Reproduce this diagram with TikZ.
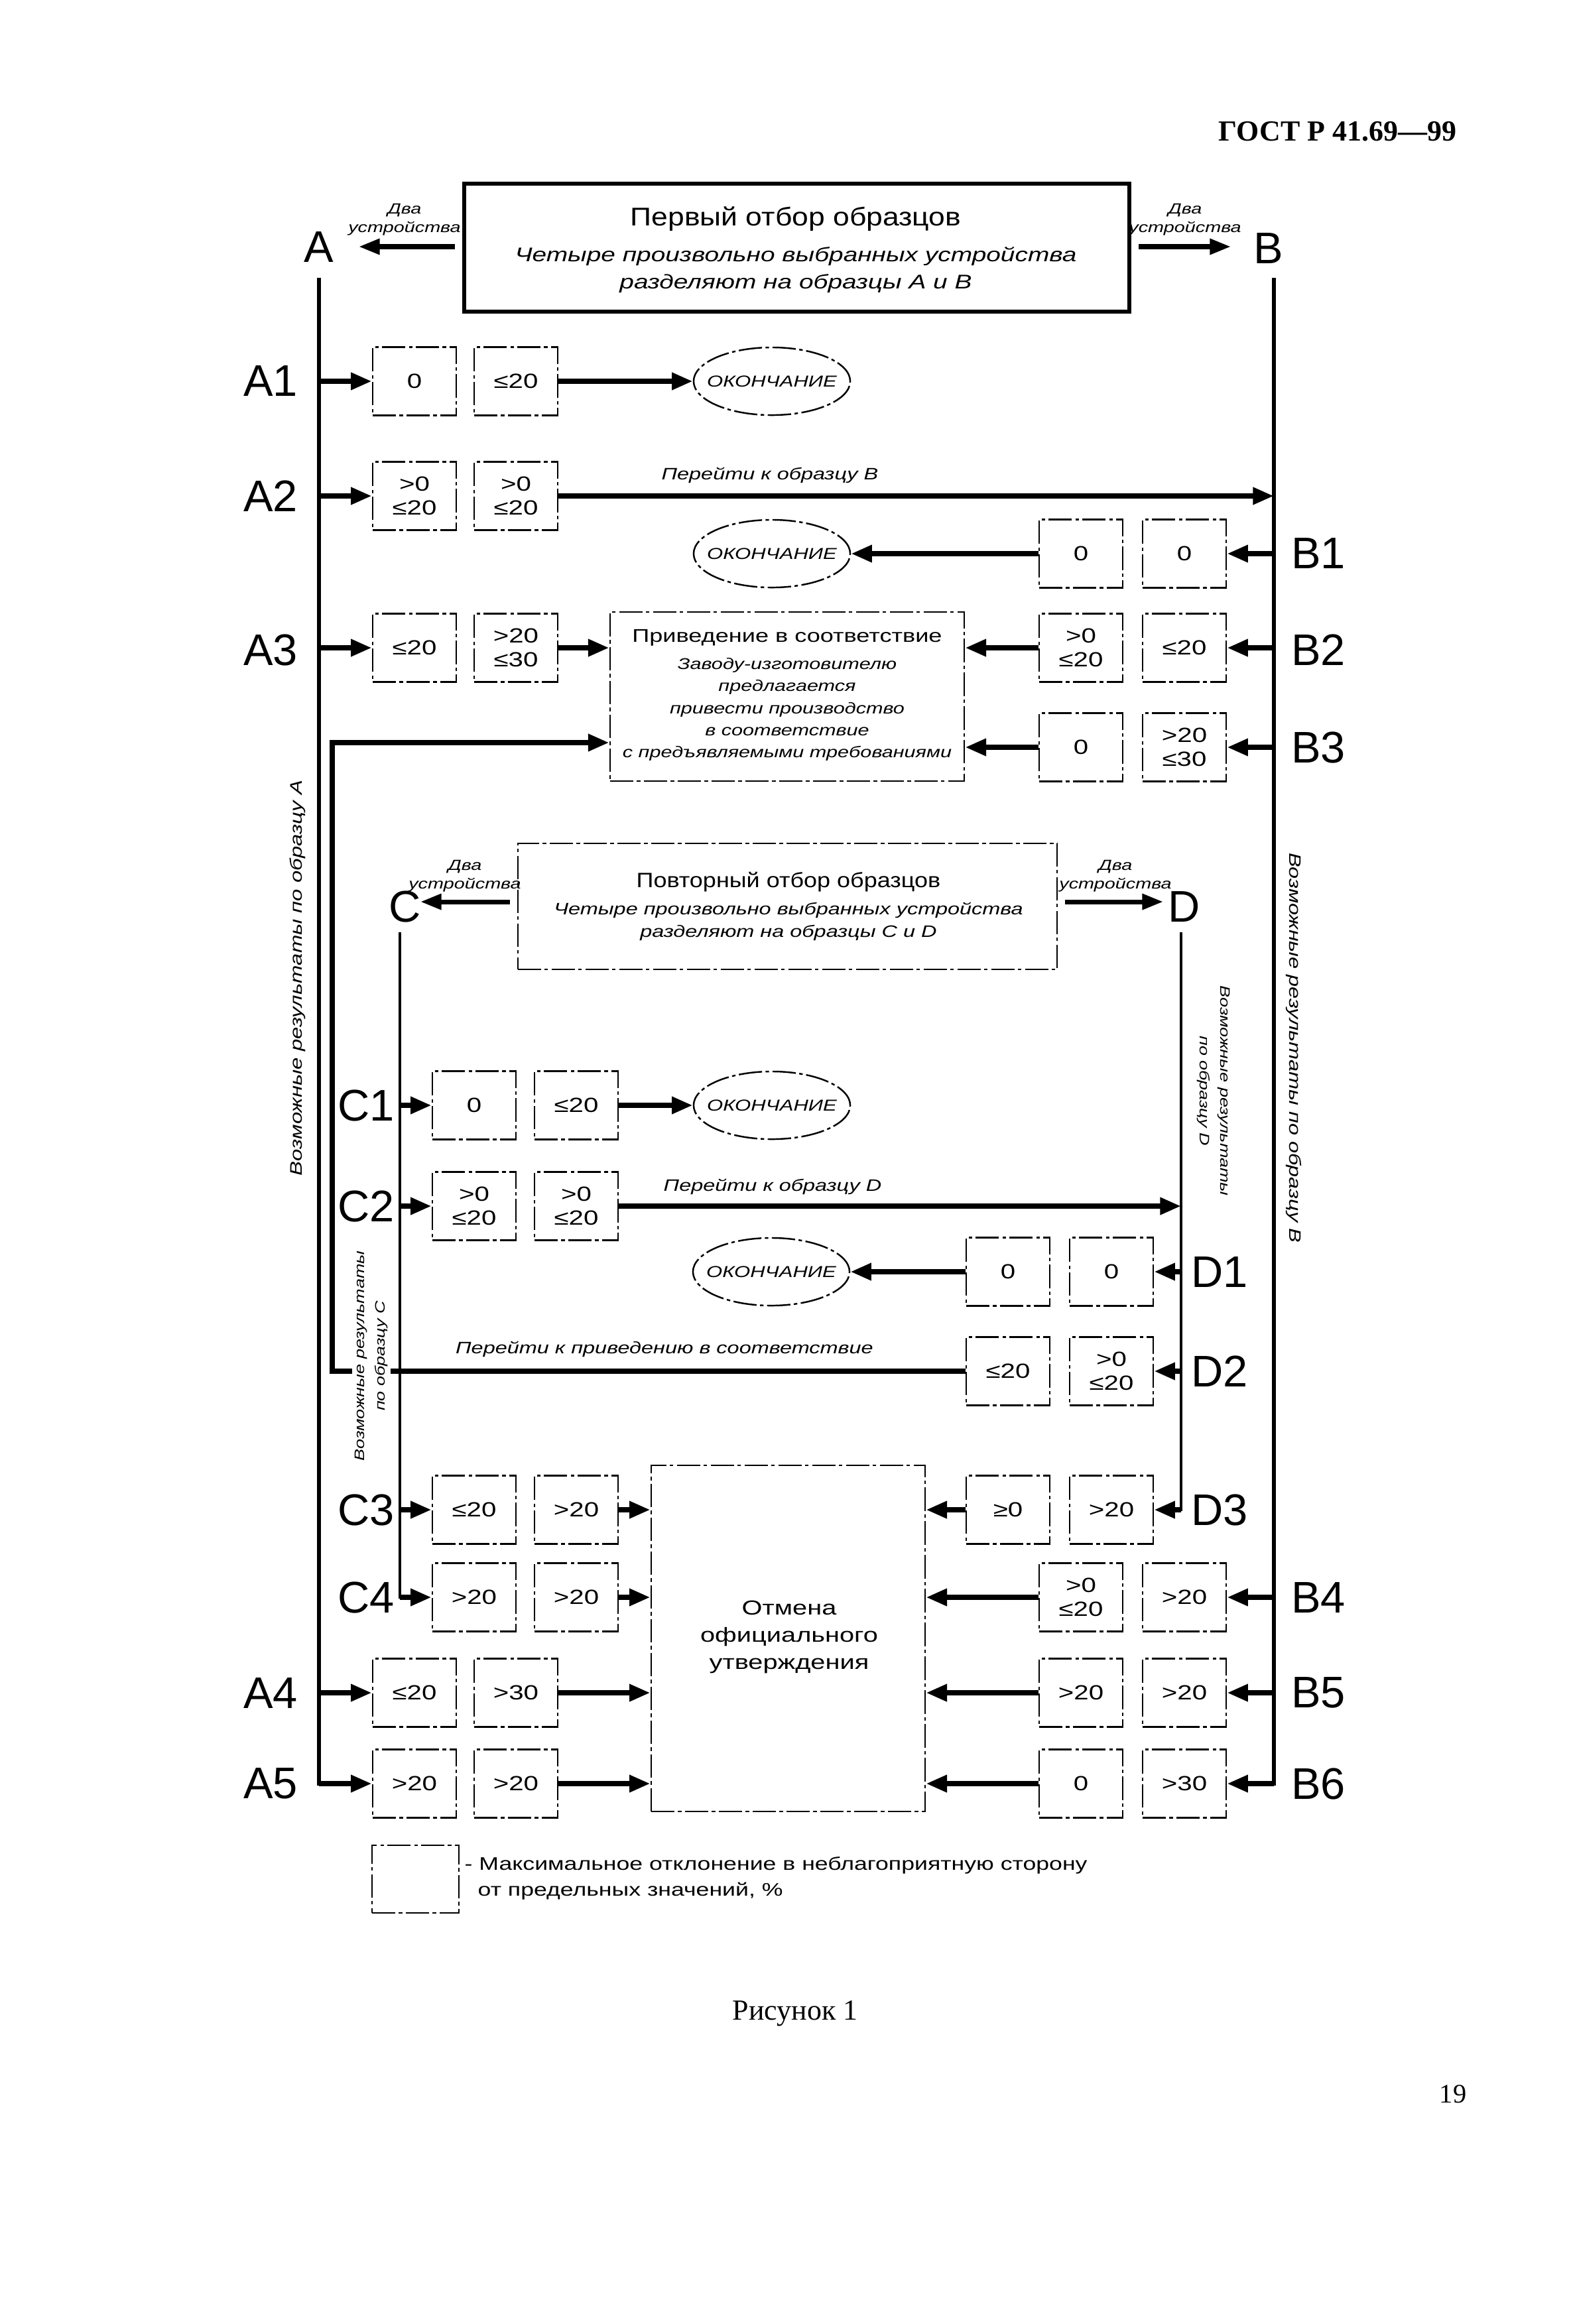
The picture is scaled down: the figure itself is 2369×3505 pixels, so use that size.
\documentclass[tikz,border=0pt]{standalone}
\usepackage{fontspec}
\setmainfont{Liberation Sans}
\newfontfamily\wsans[FakeStretch=1.3]{Liberation Sans}
\newfontfamily\msans[FakeStretch=1.15]{Liberation Sans}
\newfontfamily\tserif{Liberation Serif}
\usetikzlibrary{arrows.meta,shapes.geometric}
\tikzset{
 dashpat/.style={line width=0.7pt, dash pattern=on 10pt off 1.5pt on 1.5pt off 1.5pt},
 vbox/.style={draw, dashpat, minimum width=1.26cm, minimum height=1.03cm, inner sep=0pt, align=center, font=\wsans\fontsize{8.8}{10.2}\selectfont},
 endell/.style={draw, dashpat, ellipse, minimum width=2.36cm, minimum height=1.02cm, inner sep=0pt,
   label={[font=\wsans\itshape\fontsize{6.8}{8}\selectfont, inner sep=0pt]center:ОКОНЧАНИЕ}},
 arr/.style={line width=2.3pt, -{Triangle[length=9pt,width=7pt]}},
 arrtop/.style={line width=2pt, shorten <=3pt, -{Triangle[length=9pt,width=6.5pt]}},
 vlineAB/.style={line width=1.5pt, line cap=rect},
 vlineCD/.style={line width=1.2pt, line cap=rect},
 rowlab/.style={font=\fontsize{19}{22}\selectfont, inner sep=0pt},
 twodev/.style={align=center, font=\wsans\itshape\fontsize{6.3}{8}\selectfont},
 gotxt/.style={font=\wsans\itshape\fontsize{7.1}{8.5}\selectfont},
 bigdash/.style={draw, dashpat, inner sep=0pt},
}
\begin{document}
\begin{tikzpicture}[x=0.01cm,y=-0.01cm]
\fill[white] (0,0) rectangle (2369,3505);
\useasboundingbox (0,0) rectangle (2369,3505);

% header
\node[font=\tserif\bfseries\fontsize{12.5}{14}\selectfont] (hdr) at (2017,198) {ГОСТ Р 41.69—99};

% first sampling box
\node[draw, line width=1.7pt, minimum width=10.03cm, minimum height=1.93cm, inner sep=0pt] (first) at (1201.5,373.5) {};
\node[font=\msans\fontsize{11}{13}\selectfont] (firstT) at (1200,330) {Первый отбор образцов};
\node[align=center, font=\wsans\itshape\fontsize{8.5}{11.4}\selectfont] (firstS) at (1200,407) {Четыре произвольно выбранных устройства\\разделяют на образцы А и В};
\node[rowlab] (LA) at (481,373) {A};
\node[rowlab] (LB) at (1913,375) {B};
\coordinate (Atip) at (541,372);
\coordinate (Btip) at (1856,372);
\draw[arrtop] (first.west |- Atip) -- (Atip);
\draw[arrtop] (first.east |- Btip) -- (Btip);
\node[twodev] (tdA) at (610,331) {Два\\устройства};
\node[twodev] (tdB) at (1787,331) {Два\\устройства};

% main vertical lines
\coordinate (Atop) at (481,422);
\coordinate (Abot) at (481,2690);
\coordinate (Btop) at (1921,422);
\coordinate (Bbot) at (1921,2690);
\draw[vlineAB] (Atop) -- (Abot);
\draw[vlineAB] (Btop) -- (Bbot);

% A1
\node[vbox] (A1a) at (625,575) {0};
\node[vbox] (A1b) at (778,575) {≤20};
\node[endell] (E1) at (1164,575) {};
\node[rowlab] (A1l) at (408,575) {A1};
\draw[arr] (Atop |- A1a.west) -- (A1a.west);
\draw[arr] (A1b.east) -- (E1.west);

% A2
\node[vbox] (A2a) at (625,748) {>0\\≤20};
\node[vbox] (A2b) at (778,748) {>0\\≤20};
\node[rowlab] (A2l) at (408,748) {A2};
\draw[arr] (Atop |- A2a.west) -- (A2a.west);
\draw[arr] (A2b.east) -- (A2b.east -| Btop);
\node[gotxt] (go1) at (1161,717) {Перейти к образцу В};

% B1
\node[vbox] (B1a) at (1630,835) {0};
\node[vbox] (B1b) at (1786,835) {0};
\node[endell] (E2) at (1164,835) {};
\node[rowlab] (B1l) at (1988,835) {B1};
\draw[arr] (Btop |- B1b.east) -- (B1b.east);
\draw[arr] (B1a.west) -- (E2.east);

% compliance box
\node[bigdash, minimum width=5.34cm, minimum height=2.55cm] (comp) at (1187,1050.5) {};
\node[font=\wsans\fontsize{7.9}{9.5}\selectfont] (compT) at (1187,962) {Приведение в соответствие};
\node[align=center, font=\wsans\itshape\fontsize{6.7}{9.5}\selectfont] (compS) at (1187,1070) {Заводу-изготовителю\\предлагается\\привести производство\\в соответствие\\с предъявляемыми требованиями};

% A3
\node[vbox] (A3a) at (625,977) {≤20};
\node[vbox] (A3b) at (778,977) {>20\\≤30};
\node[rowlab] (A3l) at (408,980) {A3};
\draw[arr] (Atop |- A3a.west) -- (A3a.west);
\draw[arr] (A3b.east) -- (A3b.east -| comp.west);

% B2
\node[vbox] (B2a) at (1630,977) {>0\\≤20};
\node[vbox] (B2b) at (1786,977) {≤20};
\node[rowlab] (B2l) at (1988,980) {B2};
\draw[arr] (Btop |- B2b.east) -- (B2b.east);
\draw[arr] (B2a.west) -- (B2a.west -| comp.east);

% B3
\node[vbox] (B3a) at (1630,1127) {0};
\node[vbox] (B3b) at (1786,1127) {>20\\≤30};
\node[rowlab] (B3l) at (1988,1127) {B3};
\draw[arr] (Btop |- B3b.east) -- (B3b.east);
\draw[arr] (B3a.west) -- (B3a.west -| comp.east);

% second sampling box
\node[bigdash, minimum width=8.13cm, minimum height=1.90cm] (second) at (1187.5,1367) {};
\node[font=\msans\fontsize{8.9}{10}\selectfont] (secT) at (1189,1330) {Повторный отбор образцов};
\node[align=center, font=\wsans\itshape\fontsize{7.1}{9.7}\selectfont] (secS) at (1189,1390) {Четыре произвольно выбранных устройства\\разделяют на образцы С и D};
\node[rowlab] (LC) at (611,1367) {C};
\node[rowlab] (LD) at (1786,1367) {D};
\coordinate (Ctip) at (634,1360);
\coordinate (Dtip) at (1754,1360);
\draw[arrtop] (second.west |- Ctip) -- (Ctip);
\draw[arrtop] (second.east |- Dtip) -- (Dtip);
\node[twodev] (tdC) at (701,1321) {Два\\устройства};
\node[twodev] (tdD) at (1682,1321) {Два\\устройства};

\coordinate (Ctop) at (603,1408);
\coordinate (Cbot) at (603,2409);
\coordinate (Dtop) at (1781,1408);
\coordinate (Dbot) at (1781,2277);
\draw[vlineCD] (Ctop) -- (Cbot);
\draw[vlineCD] (Dtop) -- (Dbot);

% C1
\node[vbox] (C1a) at (715,1667) {0};
\node[vbox] (C1b) at (869,1667) {≤20};
\node[endell] (E3) at (1164,1667) {};
\node[rowlab] (C1l) at (552,1667) {C1};
\draw[arr] (Ctop |- C1a.west) -- (C1a.west);
\draw[arr] (C1b.east) -- (E3.west);

% C2
\node[vbox] (C2a) at (715,1819) {>0\\≤20};
\node[vbox] (C2b) at (869,1819) {>0\\≤20};
\node[rowlab] (C2l) at (552,1819) {C2};
\draw[arr] (Ctop |- C2a.west) -- (C2a.west);
\draw[arr] (C2b.east) -- (C2b.east -| Dtop);
\node[gotxt] (go2) at (1165,1790) {Перейти к образцу D};

% D1
\node[vbox] (D1a) at (1520,1918) {0};
\node[vbox] (D1b) at (1676,1918) {0};
\node[endell] (E4) at (1163,1918) {};
\node[rowlab] (D1l) at (1839,1918) {D1};
\draw[arr] (Dtop |- D1b.east) -- (D1b.east);
\draw[arr] (D1a.west) -- (E4.east);

% D2 and return to compliance
\node[vbox] (D2a) at (1520,2068) {≤20};
\node[vbox] (D2b) at (1676,2068) {>0\\≤20};
\node[rowlab] (D2l) at (1839,2068) {D2};
\draw[arr] (Dtop |- D2b.east) -- (D2b.east);
\coordinate (R1) at (501,2068);
\coordinate (R2) at (501,1120);
\draw[arr] (D2a.west) -- (R1) -- (R2) -- (R2 -| comp.west);
\node[gotxt] (go3) at (1002,2035) {Перейти к приведению в соответствие};

% cancellation box
\node[bigdash, minimum width=4.13cm, minimum height=5.22cm] (cancel) at (1188.5,2471) {};
\node[align=center, font=\wsans\fontsize{8.7}{11.7}\selectfont] (cancelT) at (1190,2469) {Отмена\\официального\\утверждения};

% C3
\node[vbox] (C3a) at (715,2277) {≤20};
\node[vbox] (C3b) at (869,2277) {>20};
\node[rowlab] (C3l) at (552,2277) {C3};
\draw[arr] (Ctop |- C3a.west) -- (C3a.west);
\draw[arr] (C3b.east) -- (C3b.east -| cancel.west);

% D3
\node[vbox] (D3a) at (1520,2277) {≥0};
\node[vbox] (D3b) at (1676,2277) {>20};
\node[rowlab] (D3l) at (1839,2277) {D3};
\draw[arr] (Dbot) -- (D3b.east);
\draw[arr] (D3a.west) -- (D3a.west -| cancel.east);

% C4
\node[vbox] (C4a) at (715,2409) {>20};
\node[vbox] (C4b) at (869,2409) {>20};
\node[rowlab] (C4l) at (552,2409) {C4};
\draw[arr] (Cbot) -- (C4a.west);
\draw[arr] (C4b.east) -- (C4b.east -| cancel.west);

% B4
\node[vbox] (B4a) at (1630,2409) {>0\\≤20};
\node[vbox] (B4b) at (1786,2409) {>20};
\node[rowlab] (B4l) at (1988,2409) {B4};
\draw[arr] (Btop |- B4b.east) -- (B4b.east);
\draw[arr] (B4a.west) -- (B4a.west -| cancel.east);

% A4
\node[vbox] (A4a) at (625,2553) {≤20};
\node[vbox] (A4b) at (778,2553) {>30};
\node[rowlab] (A4l) at (408,2553) {A4};
\draw[arr] (Atop |- A4a.west) -- (A4a.west);
\draw[arr] (A4b.east) -- (A4b.east -| cancel.west);

% B5
\node[vbox] (B5a) at (1630,2553) {>20};
\node[vbox] (B5b) at (1786,2553) {>20};
\node[rowlab] (B5l) at (1988,2553) {B5};
\draw[arr] (Btop |- B5b.east) -- (B5b.east);
\draw[arr] (B5a.west) -- (B5a.west -| cancel.east);

% A5
\node[vbox] (A5a) at (625,2690) {>20};
\node[vbox] (A5b) at (778,2690) {>20};
\node[rowlab] (A5l) at (408,2690) {A5};
\draw[arr] (Abot) -- (A5a.west);
\draw[arr] (A5b.east) -- (A5b.east -| cancel.west);

% B6
\node[vbox] (B6a) at (1630,2690) {0};
\node[vbox] (B6b) at (1786,2690) {>30};
\node[rowlab] (B6l) at (1988,2690) {B6};
\draw[arr] (Bbot) -- (B6b.east);
\draw[arr] (B6a.west) -- (B6a.west -| cancel.east);

% rotated captions
\node[rotate=90, font=\wsans\itshape\fontsize{7.2}{9}\selectfont] (txtA) at (449,1475) {Возможные результаты по образцу А};
\node[rotate=-90, font=\wsans\itshape\fontsize{7.1}{9}\selectfont] (txtB) at (1951,1580) {Возможные результаты по образцу В};
\node[rotate=90, align=center, fill=white, inner sep=1pt, font=\wsans\itshape\fontsize{5.9}{9}\selectfont] (txtC) at (560,2045) {Возможные результаты\\по образцу С};
\node[rotate=-90, align=center, inner sep=1pt, font=\wsans\itshape\fontsize{5.9}{9}\selectfont] (txtD) at (1830,1645) {Возможные результаты\\по образцу D};

% legend
\node[bigdash, minimum width=1.31cm, minimum height=1.02cm] (leg) at (626.5,2834) {};
\node[anchor=west, inner sep=0pt, font=\wsans\fontsize{7.8}{9}\selectfont] (legT1) at (700,2813) {- Максимальное отклонение в неблагоприятную сторону};
\node[anchor=west, inner sep=0pt, font=\wsans\fontsize{7.8}{9}\selectfont] (legT2) at (720,2852) {от предельных значений, \%};

% footer
\node[font=\tserif\fontsize{12.5}{14}\selectfont] (fig) at (1199,3037) {Рисунок 1};
\node[font=\tserif\fontsize{11.5}{13}\selectfont] (pg) at (2191,3158) {19};
\end{tikzpicture}
\end{document}
